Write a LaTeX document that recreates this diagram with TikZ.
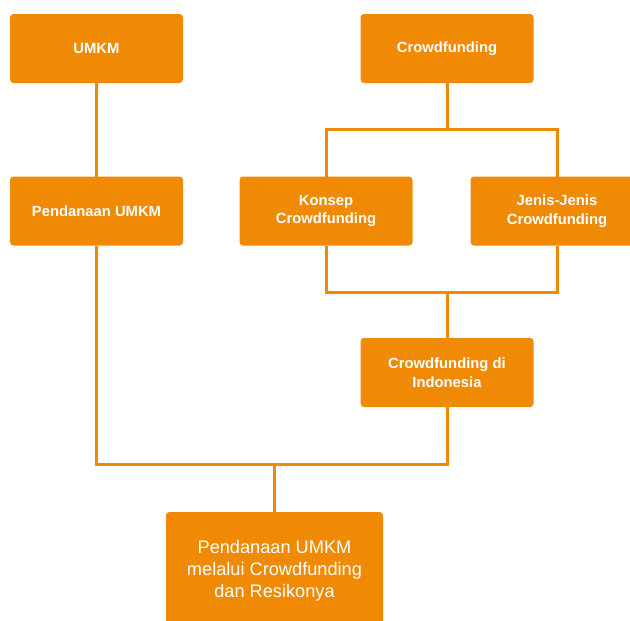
\documentclass[tikz,border=0pt]{standalone}
\usepackage{fontspec}
\setmainfont{Liberation Sans}
\definecolor{oranye}{RGB}{240,138,5}
\tikzset{
  kotak/.style={fill=oranye,rounded corners=3.5pt,inner sep=0pt,outer sep=0pt,
    text=white,align=center,minimum width=173pt,minimum height=69pt,
    font=\fontsize{14.8}{18.8}\selectfont\bfseries},
  hasilbox/.style={kotak,minimum width=217pt,minimum height=118pt,
    font=\fontsize{18.2}{22}\selectfont},
  garis/.style={draw=oranye,line width=3pt}
}
\begin{document}
\begin{tikzpicture}[x=1pt,y=-1pt]
        \useasboundingbox (0,0) rectangle (630,621);
        \clip (0,0) rectangle (630,621);
        \node[kotak] (umkm) at (96.5,48.5) {UMKM};
        \node[kotak] (cf) at (447,48.5) {Crowdfunding};
        \node[kotak] (pend) at (96.5,211) {Pendanaan UMKM};
        \node[kotak] (konsep) at (326,211) {Konsep\\Crowdfunding};
        \node[kotak] (jenis) at (557,211) {Jenis-Jenis\\Crowdfunding};
        \node[kotak] (indo) at (447,372.5) {Crowdfunding di\\Indonesia};
        \node[hasilbox] (hasil) at (274.5,571) {Pendanaan UMKM\\melalui Crowdfunding\\dan Resikonya};
        
        \coordinate (topbar) at (447,129);
        \coordinate (midbar) at (447,292);
        \coordinate (botbar) at (274.5,464);
        
        \draw[garis] (umkm) -- (pend);
        \draw[garis] (cf) -- (topbar);
        \draw[garis] (konsep.north) |- (topbar) -| (jenis.north);
        \draw[garis] (konsep.south) |- (midbar) -| (jenis.south);
        \draw[garis] (midbar) -- (indo.north);
        \draw[garis] (pend.south) |- (botbar) -| (indo.south);
        \draw[garis] (botbar) -- (hasil.north);
        \end{tikzpicture}
\end{document}
